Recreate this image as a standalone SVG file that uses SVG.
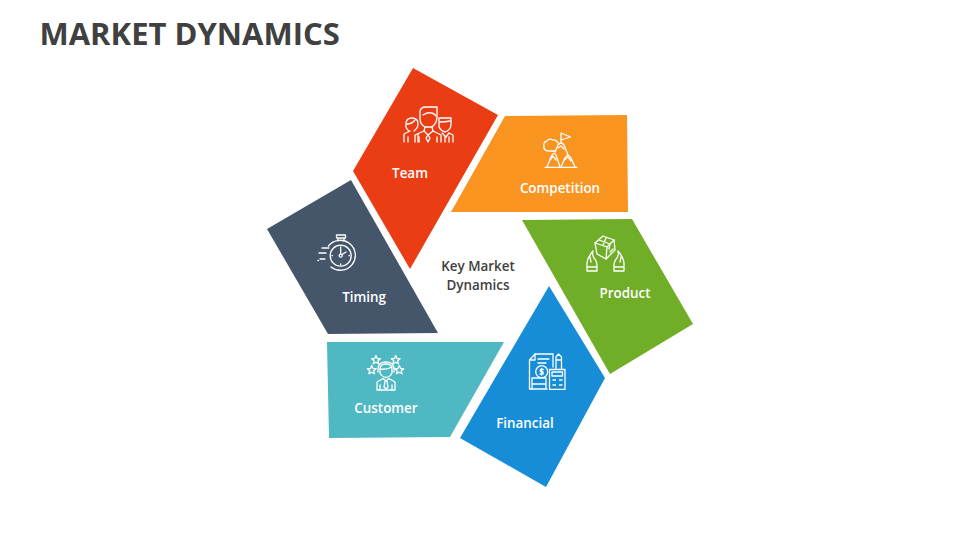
<svg xmlns="http://www.w3.org/2000/svg" width="960" height="540" viewBox="0 0 960 540">
<defs>
<path id="star" d="M0 -4.500L1.300 -1.500L4.400 -1.300L2 .8L2.800 3.800L0 2.200L-2.800 3.800L-2 .8L-4.400 -1.300L-1.300 -1.500Z"/>
</defs>
<style>
.title{font:700 31px "Open Sans",sans-serif;fill:#404040}
.lbl{font:600 13.4px "Open Sans",sans-serif;fill:#fff;text-anchor:middle}
.ctr{font:600 13.4px "Open Sans",sans-serif;fill:#404040;text-anchor:middle}
.ic{fill:none;stroke:#fff;stroke-width:1.300;stroke-linejoin:round;stroke-linecap:round}
</style>
<rect width="960" height="540" fill="#fff"/>
<text class="title" x="39.500" y="45">MARKET DYNAMICS</text>
<g id="connectors"/>
<g id="node-team">
<polygon points="413,68 498,115 410,269 353,171" fill="#ea3d14"/>
<g class="ic">
<path d="M420 119V112Q420 107 426 107H437V117Q437 123 432 127H425Q420 124 420 119Z"/>
<path d="M423 115Q428 112 431 113Q434 113 436 116"/>
<path d="M415 142V135L424 131L428 135L433 131L441 135V142"/>
<path d="M428 135L426 138L428 142M428 135L430 138L428 142M424 131L425 127M433 131L432 127M419 142V137M437 142V137"/>
<path d="M404 142V134L410 131M418 134V142M409 131Q405 128 406 124Q406 118 412 118Q418 118 418 124Q418 128 414 131"/>
<path d="M407 124Q412 124 415 120M408 142V137"/>
<path d="M439 118H451V124Q451 130 445 132Q441 131 439 127Z"/>
<path d="M440 122Q445 122 450 121"/>
<path d="M442 133L446 137L449 133L453 135V142M449 137V142M445 137V142"/>
</g>
<text class="lbl" x="410" y="178">Team</text>
</g>
<g id="node-competition">
<polygon points="505,116 627,115 628,212 451,212" fill="#fa9420"/>
<g class="ic">
<path d="M545 167.300H577"/>
<path d="M547 167L551 157Q553.500 151 556 155L560 167"/>
<path d="M561 167L565 158Q568 153 571 158L575 167"/>
<path d="M555 152L558 145Q561 141 564 145L568 155"/>
<path d="M561 142V133L570.500 137L561 140"/>
<path d="M555 151H548Q543 150 544 146Q543 142 547 141Q549 138 553 140Q556 139 558 143"/>
<path d="M550 160L553 156L556 160M564 160L568 157L571 161M558 148L561 146L564 149"/>
</g>
<text class="lbl" x="560" y="193">Competition</text>
</g>
<g id="node-product">
<polygon points="522,220 632,219 693,324 610,374" fill="#70ae28"/>
<g class="ic">
<path d="M603 236L595 243L597 254L606 259L615 250L614 240Z"/>
<path d="M595 243L607 247L614 240M607 247L606 259"/>
<path d="M599 240L610 244L609 249M606 238L603 245M610 252L613 249"/>
<path d="M593 251Q587 258 587 264V271H597V266Q597 261 594 258Q592 255 593 251ZM587.500 267H597M590 257L591 262"/>
<path d="M618 251Q624 258 624 264V271H614V266Q614 261 617 258Q619 255 618 251ZM623.500 267H614M621 257L620 262"/>
</g>
<text class="lbl" x="625" y="298">Product</text>
</g>
<g id="node-financial">
<polygon points="549,286 605,378 546,487 460,438" fill="#178dd8"/>
<g class="ic">
<path d="M532 389H529.500V360L535 354H553V367"/>
<path d="M535 354V360H529.500M538 359H549M538 363H546"/>
<circle cx="541.700" cy="371.700" r="6"/>
<path d="M543.500 369.500H540.500Q539.500 371.700 541.700 371.700Q544 371.700 543 374H540M541.700 368.500V375"/>
<path d="M532 389H547M532 389V384H546M532 384V378H546V389"/>
<path d="M549.500 369.500H565V389.300H549.500Z"/>
<path d="M552 372H562.500V376H552ZM553 380H555.500M559.500 380H562M553 385H555.500M559.500 385H562"/>
<path d="M556 369V357L558.500 354L561.500 357V369M556 360H561.500"/>
</g>
<text class="lbl" x="525" y="428">Financial</text>
</g>
<g id="node-customer">
<polygon points="327,342 504,342 450,437 329,438" fill="#4fb8c3"/>
<g class="ic">
<path d="M380 369Q380 364 386 364Q392 364 392 369V373Q390 377 386 377.500Q382 377 380 373Z"/>
<path d="M380 369Q386 370 392 367M378 372V368Q379 362 386 362Q393 362 394 368V372"/>
<path d="M377 390V382L383 378.500L386 381L389 378.500L395 382V390H377Z"/>
<path d="M385 381.500L384 387L386 389L388 387L387 381.500M380 390V385M392 390V385"/>
<use href="#star" x="376" y="360"/>
<use href="#star" x="395.700" y="360"/>
<use href="#star" x="371.700" y="370"/>
<use href="#star" x="399.300" y="370"/>
</g>
<text class="lbl" x="386" y="413">Customer</text>
</g>
<g id="node-timing">
<polygon points="351,180 438,333 328,334 267,229" fill="#46566a"/>
<g class="ic">
<path d="M328.500 246A15 15 0 1 1 331 267"/>
<circle cx="340.700" cy="255.700" r="10.500"/>
<path d="M338 241V238H344V241M336.500 238H345.500V235H336.500Z"/>
<path d="M340.700 248.500V254M342 254.500L346 252"/>
<circle cx="340.700" cy="255.700" r="1.500"/>
<path d="M340.700 247V247.500M340.700 264V264.500M332 255.700H332.500M349 255.700H349.500"/>
<path d="M322 248H329M319 253H326M320 259H325M318 260.500H318.500"/>
</g>
<text class="lbl" x="364" y="302">Timing</text>
</g>
<g id="node-center">
<text class="ctr" x="478" y="271">Key Market</text>
<text class="ctr" x="478" y="290">Dynamics</text>
</g>
</svg>
